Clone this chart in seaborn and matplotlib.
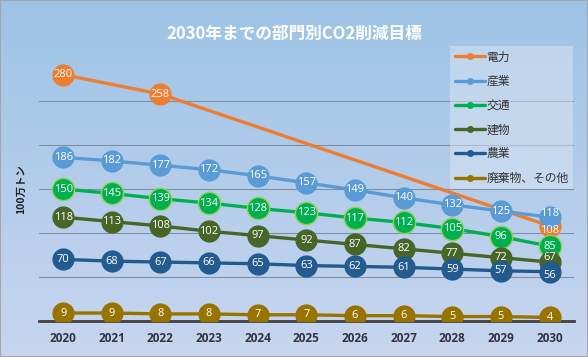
import numpy as np
import pandas as pd
import seaborn as sns
import matplotlib.pyplot as plt
from matplotlib.lines import Line2D
from matplotlib.colors import LinearSegmentedColormap

sns.set_theme(style="white")
plt.rcParams["font.family"] = ["Noto Sans CJK JP", "DejaVu Sans"]

years = [2020, 2021, 2022, 2023, 2024, 2025, 2026, 2027, 2028, 2029, 2030]
sectors = ["電力", "産業", "交通", "建物", "農業", "廃棄物、その他"]
power = [280, None, 258, None, None, None, None, None, None, None, 108]
industry = [186, 182, 177, 172, 165, 157, 149, 140, 132, 125, 118]
transport = [150, 145, 139, 134, 128, 123, 117, 112, 105, 96, 85]
buildings = [118, 113, 108, 102, 97, 92, 87, 82, 77, 72, 67]
agriculture = [70, 68, 67, 66, 65, 63, 62, 61, 59, 57, 56]
waste = [9, 9, 8, 8, 7, 7, 6, 6, 5, 5, 4]
colors = ["#ED7D31", "#5B9BD5", "#00B050", "#466527", "#235B8E", "#997300"]
edges = [None, None, "#92D050", None, None, None]

series = [power, industry, transport, buildings, agriculture, waste]
rows = []
for name, vals in zip(sectors, series):
    for i, v in enumerate(vals):
        rows.append({"idx": i, "year": years[i], "sector": name, "value": v})
df = pd.DataFrame(rows).dropna()

# small nudges (points) where 2030 labels crowd each other
nudge = {("電力", 10): -3, ("産業", 10): 3, ("建物", 10): 3, ("農業", 10): -3}

fig = plt.figure(figsize=(5.88, 3.57), dpi=100)

# gradient background
bg = fig.add_axes([0, 0, 1, 1], zorder=-10)
cmap = LinearSegmentedColormap.from_list("bg", ["#9DC3E6", "#C8D6EF"])
bg.imshow(np.linspace(0, 1, 256).reshape(-1, 1), aspect="auto", cmap=cmap,
          extent=[0, 1, 0, 1])
bg.set_axis_off()
fig.patches.append(plt.Rectangle((0, 0), 1, 1, transform=fig.transFigure,
                                 fill=False, edgecolor="#A6A6A6", lw=1.5))

ax = fig.add_axes([0.066, 0.101, 0.910, 0.739])
ax.patch.set_alpha(0)

for k, (name, col, ec) in enumerate(zip(sectors, colors, edges)):
    sub = df[df.sector == name]
    sns.lineplot(data=sub, x="idx", y="value", color=col, lw=2.4,
                 marker="o", markersize=16,
                 markeredgewidth=1 if ec else 0, markeredgecolor=ec or col,
                 ax=ax, zorder=3 + k, legend=False)
    for _, r in sub.iterrows():
        dy = nudge.get((name, int(r.idx)), 0)
        ax.annotate(f"{int(r.value)}", (r.idx, r.value), xytext=(0, dy),
                    textcoords="offset points", color="white",
                    ha="center", va="center", fontsize=8, zorder=20,
                    family=["Open Sans", "DejaVu Sans"])

ax.set_xlim(-0.5, 10.5)
ax.set_ylim(0, 300)
ax.set_yticks([50, 100, 150, 200, 250])
ax.yaxis.grid(True, color="#7F8FA6", lw=0.8)
ax.set_yticklabels([])
ax.tick_params(axis="y", length=0)
ax.set_xticks(range(len(years)))
ax.set_xticklabels(years, fontsize=8.5, fontweight="bold", color="#333344",
                   family=["Open Sans", "DejaVu Sans"])
ax.tick_params(axis="x", length=0, pad=8)
for s in ["top", "right", "left"]:
    ax.spines[s].set_visible(False)
ax.spines["bottom"].set_color("#404040")
ax.spines["bottom"].set_linewidth(2)
ax.set_xlabel("")
ax.set_ylabel("100万トン", fontsize=7.5, fontweight="bold", color="#222222",
              labelpad=6)

fig.text(0.5, 0.905, "2030年までの部門別CO2削減目標", ha="center", va="center",
         fontsize=12, fontweight="bold", color="white")

handles = [Line2D([0], [0], color=c, lw=2.4, marker="o", markersize=4)
           for c in colors]
leg = fig.legend(handles, sectors, loc="upper left",
                 bbox_to_anchor=(444 / 588, 1 - 40 / 357), fontsize=8.5,
                 frameon=True, handlelength=2.6, labelspacing=0.95,
                 borderpad=0.4, handletextpad=0.1)
leg.get_frame().set_facecolor("#DCE6F2")
leg.get_frame().set_alpha(0.5)
leg.get_frame().set_edgecolor("none")
leg.get_frame().set_boxstyle("square", pad=0)
for t in leg.get_texts():
    t.set_color("#333333")

fig.savefig("out.png", dpi=100)
